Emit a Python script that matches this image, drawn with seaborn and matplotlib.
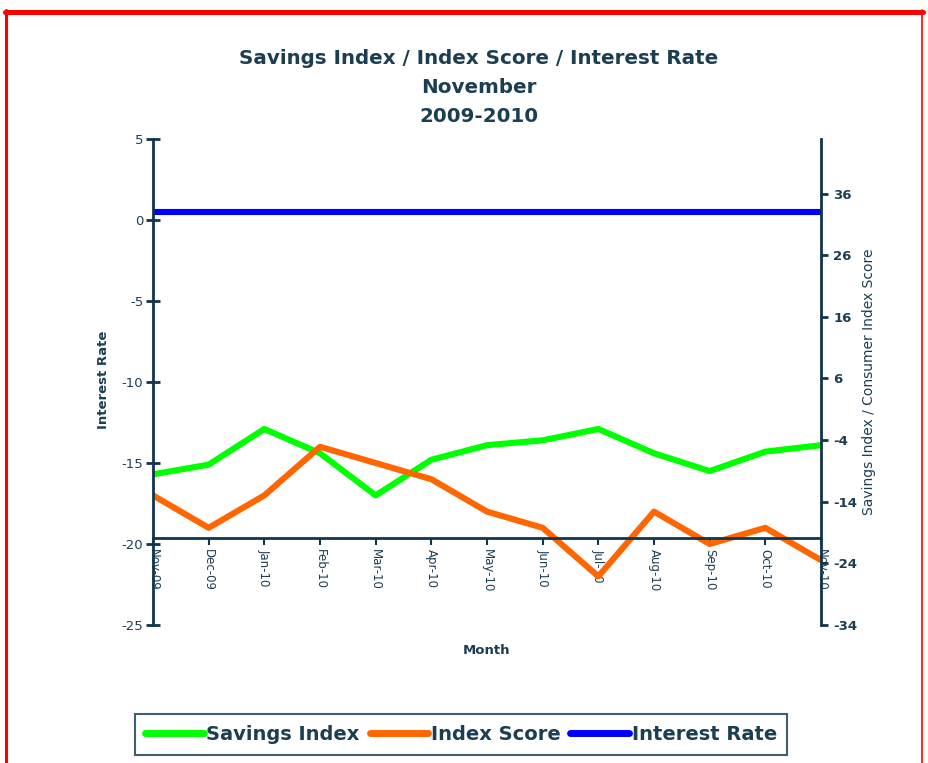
import matplotlib
matplotlib.use('Agg')
from matplotlib import pyplot as plt  # type: ignore
from matplotlib.lines import Line2D  # type: ignore
import pandas as pd  # type: ignore
import seaborn as sns  # type: ignore

# -----------------------------------------------------------------------------
# Data

months = ['Nov-09', 'Dec-09', 'Jan-10', 'Feb-10', 'Mar-10', 'Apr-10',
          'May-10', 'Jun-10', 'Jul-10', 'Aug-10', 'Sep-10', 'Oct-10',
          'Nov-10']
savings_index = [-15.7, -15.1, -12.9, -14.4, -17.0, -14.8, -13.9, -13.6,
                 -12.9, -14.4, -15.5, -14.3, -13.9]
index_score = [-17, -19, -17, -14, -15, -16, -18, -19, -22, -18, -20, -19,
               -21]
interest_rate = [0.5, 0.5, 0.5, 0.5, 0.5, 0.5, 0.5, 0.5, 0.5, 0.5, 0.5, 0.5,
                 0.5]

left_ticks = [5, 0, -5, -10, -15, -20, -25]
right_ticks = [36, 26, 16, 6, -4, -14, -24, -34]

series_names = ['Savings Index', 'Index Score', 'Interest Rate']
series_colors = {'Savings Index': '#00ff00', 'Index Score': '#ff6600',
                 'Interest Rate': '#0000ff'}

# -----------------------------------------------------------------------------

sns.set_style('ticks')
plt.rcParams['font.family'] = ['DejaVu Sans']
plt.rcParams['axes.unicode_minus'] = False

navy = '#10364b'
text_col = '#1c3e53'

data = pd.DataFrame({'month': months,
                     'Savings Index': savings_index,
                     'Index Score': index_score,
                     'Interest Rate': interest_rate})
data['pos'] = range(len(months))
long_data = data.melt(id_vars=['month', 'pos'], var_name='series',
                      value_name='value')

fig = plt.figure(figsize=(9.29, 7.63), dpi=100)
ax = fig.add_axes([153 / 929, 1 - 625 / 763, 668 / 929, 486 / 763])

sns.lineplot(data=long_data, x='pos', y='value', hue='series',
             hue_order=['Interest Rate', 'Savings Index', 'Index Score'],
             palette=series_colors, linewidth=4.4, legend=False,
             estimator=None, sort=False, ax=ax)

ax.set_xlim(0, len(months) - 1)
ax.set_ylim(-25, 5)
ax.set_yticks(left_ticks)
ax.set_yticklabels([str(t) for t in left_ticks])
ax.set_xticks(list(data['pos']))
ax.set_xticklabels(months)

ax.spines['top'].set_visible(False)
ax.spines['right'].set_visible(False)
ax.spines['bottom'].set_position(('data', -19.6))
for side in ('left', 'bottom'):
    ax.spines[side].set_color(navy)
    ax.spines[side].set_linewidth(2)

ax.tick_params(axis='y', direction='inout', length=10, width=2, color=navy,
               labelsize=9.5, labelcolor=text_col, pad=2)
ax.tick_params(axis='x', direction='out', length=5, width=1.5, color=navy,
               labelsize=8.5, labelcolor=text_col, labelrotation=270, pad=3)
for label in ax.get_xticklabels():
    label.set_rotation(270)
    label.set_va('top')
    label.set_ha('center')

ax.set_xlabel('Month', fontsize=9.5, fontweight='bold', color=text_col)
ax.xaxis.set_label_coords(0.5, -0.039)
ax.set_ylabel('Interest Rate', fontsize=9.5, fontweight='bold',
              color=text_col)
ax.yaxis.set_label_coords(-0.064, 0.504)

ax2 = ax.twinx()
ax2.set_ylim(-34.08, 44.94)
ax2.set_yticks(right_ticks)
ax2.set_yticklabels([str(t) for t in right_ticks], fontweight='bold')
for side in ('left', 'top', 'bottom'):
    ax2.spines[side].set_visible(False)
ax2.spines['right'].set_color(navy)
ax2.spines['right'].set_linewidth(2)
ax2.tick_params(axis='y', direction='out', length=5, width=2, color=navy,
                labelsize=9.5, labelcolor=text_col, pad=4)
ax2.set_ylabel('Savings Index / Consumer Index Score', fontsize=10,
               color=text_col)
ax2.yaxis.set_label_coords(1.062, 0.5)

fig.text(479 / 929, 1 - 49 / 763,
         'Savings Index / Index Score / Interest Rate\nNovember\n2009-2010',
         ha='center', va='top', fontsize=14.3, fontweight='bold',
         color=text_col, linespacing=1.66)

handles = [Line2D([0], [0], color=series_colors[name], lw=5,
                  solid_capstyle='round') for name in series_names]
legend = fig.legend(handles, series_names, loc='center', ncol=3,
                    bbox_to_anchor=(461 / 929, 1 - 734.5 / 763),
                    frameon=True, fancybox=False, handlelength=3.0,
                    handletextpad=0.15, columnspacing=0.5, borderpad=0.55,
                    borderaxespad=0,
                    prop={'size': 14, 'weight': 'bold'})
legend.get_frame().set_edgecolor(navy)
legend.get_frame().set_linewidth(1.5)
for text in legend.get_texts():
    text.set_color(text_col)

# Red frame round the chart
fig.add_artist(Line2D([5 / 929, 923 / 929], [1 - 11.5 / 763, 1 - 11.5 / 763],
                      color='#ff0000', lw=3.6, transform=fig.transFigure))
fig.add_artist(Line2D([6.5 / 929, 6.5 / 929], [0, 1 - 9.5 / 763],
                      color='#ff0000', lw=2.2, transform=fig.transFigure))
fig.add_artist(Line2D([922 / 929, 922 / 929], [0, 1 - 9.5 / 763],
                      color='#ff0000', lw=1.2, transform=fig.transFigure))

fig.savefig('out.png', dpi=100)
plt.close()
